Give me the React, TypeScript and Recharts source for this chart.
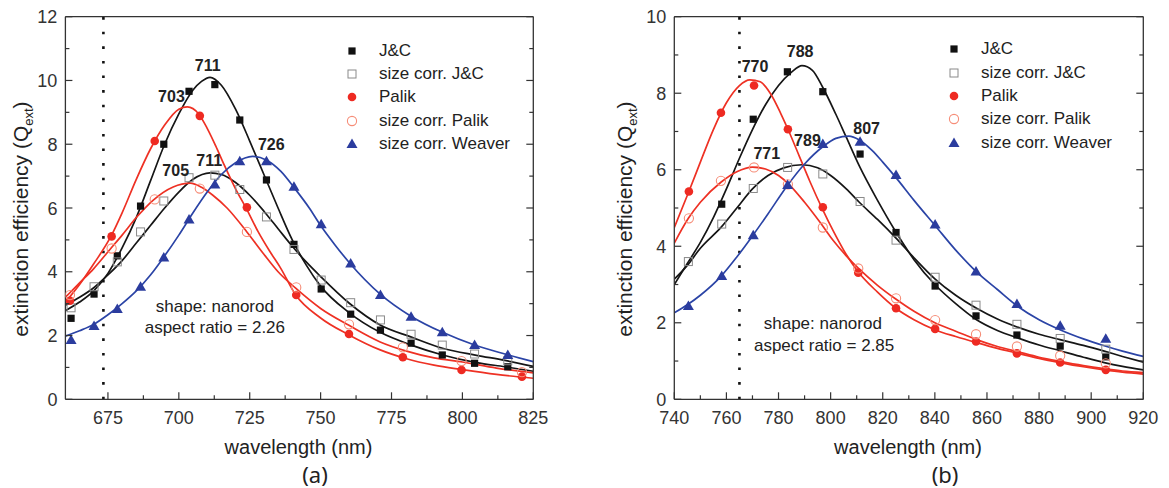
import React from 'react';
import {
  ComposedChart,
  Line,
  Scatter,
  XAxis,
  YAxis,
  ReferenceLine,
  ReferenceDot,
  Legend,
} from 'recharts';

// ---------- panel (a): nanorod, aspect ratio 2.26 ----------
// J&C, size corr. J&C and Weaver share the same wavelengths
const aX = [662, 670.1, 678.3, 686.5, 694.7, 703.6, 712.7, 721.5, 730.9, 740.6, 750.2, 760.6, 771.1, 781.9, 792.9, 804.3, 816.0];
const aJC = [2.54, 3.3, 4.5, 6.06, 8.0, 9.66, 9.87, 8.76, 6.88, 4.86, 3.46, 2.67, 2.17, 1.76, 1.39, 1.13, 1.02];
const aJCsc = [2.87, 3.53, 4.31, 5.25, 6.22, 6.95, 7.03, 6.58, 5.72, 4.7, 3.74, 3.03, 2.49, 2.04, 1.7, 1.42, 1.21];
const aWeaver = [1.86, 2.3, 2.83, 3.53, 4.45, 5.64, 6.74, 7.47, 7.47, 6.67, 5.49, 4.26, 3.27, 2.59, 2.1, 1.7, 1.39];
const aPX = [661.6, 676.3, 691.5, 707.4, 724.0, 741.4, 760.0, 779.0, 799.7, 821.0];
const aPalik = [3.09, 5.11, 8.1, 8.89, 6.02, 3.27, 2.05, 1.32, 0.92, 0.71];
const aPalikSc = [3.27, 4.73, 6.27, 6.61, 5.25, 3.51, 2.35, 1.63, 1.2, 0.85];

// fitted curves
const aFitJCX = [660, 665, 670, 675, 680, 685, 690, 695, 700, 705, 708, 711, 715, 720, 725, 730, 735, 740, 745, 750, 760, 771, 782, 793, 805, 815, 825];
const aFitJC = [2.78, 3.05, 3.4, 3.95, 4.75, 5.7, 6.85, 8.0, 8.95, 9.7, 9.97, 10.1, 9.85, 9.1, 8.1, 7.05, 6.0, 5.0, 4.2, 3.55, 2.72, 2.1, 1.7, 1.39, 1.15, 1.02, 0.88];
const aFitJCscX = [660, 665, 670, 675, 680, 685, 690, 695, 700, 705, 711, 715, 720, 725, 730, 735, 740, 745, 750, 760, 771, 782, 793, 805, 815, 825];
const aFitJCsc = [2.95, 3.2, 3.5, 3.9, 4.35, 4.9, 5.45, 6.0, 6.5, 6.9, 7.1, 7.05, 6.8, 6.4, 5.9, 5.35, 4.8, 4.3, 3.85, 3.02, 2.33, 1.95, 1.6, 1.38, 1.22, 1.03];
const aFitPX = [660, 665, 670, 676, 680, 685, 690, 695, 700, 703, 707, 710, 713, 716, 720, 724, 728, 732, 736, 741, 750, 760, 771, 780, 790, 800, 812, 825];
const aFitP = [3.05, 3.6, 4.25, 5.1, 5.85, 6.9, 7.85, 8.6, 9.1, 9.17, 8.95, 8.5, 7.95, 7.35, 6.6, 5.95, 5.25, 4.65, 4.1, 3.3, 2.55, 2.02, 1.55, 1.28, 1.07, 0.93, 0.78, 0.66];
const aFitPscX = [660, 665, 670, 676, 680, 685, 691, 698, 704, 708, 712, 717, 724, 730, 735, 741, 750, 760, 771, 780, 790, 800, 812, 825];
const aFitPsc = [3.2, 3.65, 4.1, 4.73, 5.15, 5.7, 6.25, 6.66, 6.78, 6.65, 6.4, 6.0, 5.25, 4.55, 4.0, 3.5, 2.85, 2.32, 1.8, 1.52, 1.3, 1.17, 0.98, 0.83];
const aFitWX = [660, 665, 670, 675, 680, 685, 690, 695, 700, 705, 710, 715, 720, 726, 731, 736, 741, 746, 750, 755, 760, 771, 782, 793, 805, 815, 825];
const aFitW = [1.98, 2.15, 2.35, 2.65, 3.0, 3.4, 3.9, 4.5, 5.15, 5.85, 6.5, 7.05, 7.42, 7.62, 7.5, 7.15, 6.6, 6.0, 5.45, 4.85, 4.3, 3.3, 2.6, 2.1, 1.68, 1.42, 1.18];

// ---------- panel (b): nanorod, aspect ratio 2.85 ----------
const bX = [745.4, 758.2, 770.3, 783.5, 797.0, 811.3, 825.1, 840.1, 855.8, 871.5, 888.1, 905.6];
const bJCX = [758.2, 770.3, 783.4, 797.0, 811.3, 825.1, 840.1, 855.8, 871.5, 888.1, 905.6];
const bJC = [5.1, 7.32, 8.56, 8.04, 6.41, 4.36, 2.96, 2.18, 1.68, 1.39, 1.11];
const bJCsc = [3.6, 4.58, 5.51, 6.06, 5.89, 5.17, 4.16, 3.19, 2.46, 1.96, 1.59, 1.31];
const bWeaver = [2.44, 3.22, 4.29, 5.6, 6.67, 6.73, 5.86, 4.57, 3.34, 2.49, 1.92, 1.58];
const bPX = [745.6, 757.9, 770.6, 783.6, 797.0, 810.6, 825.1, 840.1, 855.8, 871.5, 888.1, 905.6];
const bPalik = [5.43, 7.49, 8.2, 7.06, 5.02, 3.31, 2.38, 1.84, 1.51, 1.2, 0.96, 0.77];
const bPalikSc = [4.73, 5.71, 6.06, 5.62, 4.49, 3.42, 2.64, 2.07, 1.7, 1.38, 1.14, 0.94];

const bFitJCX = [740, 745, 750, 755, 760, 765, 770, 775, 780, 785, 789, 793, 797, 802, 806, 811, 818, 825, 832, 840, 848, 856, 864, 872, 880, 888, 897, 905, 912, 920];
const bFitJC = [3.0, 3.55, 4.1, 4.75, 5.5, 6.3, 7.05, 7.7, 8.2, 8.55, 8.72, 8.6, 8.15, 7.45, 6.85, 6.1, 5.2, 4.38, 3.65, 3.0, 2.5, 2.08, 1.8, 1.6, 1.42, 1.27, 1.1, 0.96, 0.86, 0.77];
const bFitJCscX = [740, 745, 750, 758, 764, 770, 776, 782, 789, 795, 800, 806, 811, 818, 825, 832, 840, 848, 856, 864, 872, 880, 888, 897, 905, 912, 920];
const bFitJCsc = [3.14, 3.5, 3.95, 4.5, 5.0, 5.5, 5.85, 6.05, 6.13, 6.05, 5.85, 5.5, 5.15, 4.7, 4.22, 3.7, 3.15, 2.72, 2.38, 2.1, 1.88, 1.7, 1.56, 1.41, 1.26, 1.12, 0.97];
const bFitPX = [740, 745.6, 750, 755, 760, 765, 769, 773, 777, 781, 784, 788, 792, 797, 801, 805, 810, 818, 825, 832, 840, 848, 856, 864, 872, 880, 888, 897, 905, 912, 920];
const bFitP = [4.49, 5.43, 6.2, 7.05, 7.75, 8.2, 8.35, 8.3, 7.98, 7.45, 7.0, 6.35, 5.7, 4.95, 4.4, 3.9, 3.38, 2.8, 2.38, 2.08, 1.82, 1.64, 1.48, 1.33, 1.2, 1.07, 0.96, 0.85, 0.77, 0.71, 0.66];
const bFitPscX = [740, 745.4, 750, 758, 764, 770, 775, 780, 784, 790, 796, 801, 806, 811, 818, 825, 832, 840, 848, 856, 864, 872, 880, 888, 897, 905, 912, 920];
const bFitPsc = [4.08, 4.73, 5.15, 5.68, 5.95, 6.07, 6.02, 5.85, 5.62, 5.15, 4.62, 4.15, 3.75, 3.4, 2.98, 2.62, 2.3, 2.0, 1.78, 1.56, 1.38, 1.24, 1.1, 0.99, 0.88, 0.8, 0.74, 0.7];
const bFitWX = [740, 745, 750, 758, 764, 770, 776, 783, 790, 797, 802, 807, 811, 816, 820, 825, 832, 840, 848, 856, 864, 872, 880, 888, 897, 905, 912, 920];
const bFitW = [2.26, 2.47, 2.72, 3.22, 3.72, 4.27, 4.85, 5.55, 6.15, 6.6, 6.82, 6.88, 6.78, 6.5, 6.2, 5.8, 5.2, 4.55, 3.9, 3.33, 2.87, 2.42, 2.08, 1.82, 1.58, 1.4, 1.26, 1.12];

// ticks
const aXMajor = [675, 700, 725, 750, 775, 800, 825];
const aXMinor = [687.5, 712.5, 737.5, 762.5, 787.5, 812.5];
const aYMajor = [0, 2, 4, 6, 8, 10, 12];
const aYMinor = [1, 3, 5, 7, 9, 11];
const bXMajor = [740, 760, 780, 800, 820, 840, 860, 880, 900, 920];
const bXMinor = [750, 770, 790, 810, 830, 850, 870, 890, 910];
const bYMajor = [0, 2, 4, 6, 8, 10];
const bYMinor = [1, 3, 5, 7, 9];

// peak wavelength labels and notes
const aPeaks = [
  { x: 710.2, y: 10.48, t: '711' },
  { x: 697.4, y: 9.51, t: '703' },
  { x: 698.9, y: 7.18, t: '705' },
  { x: 710.7, y: 7.51, t: '711' },
  { x: 732.6, y: 7.99, t: '726' },
];
const bPeaks = [
  { x: 788.3, y: 9.1, t: '788' },
  { x: 771.0, y: 8.7, t: '770' },
  { x: 775.5, y: 6.44, t: '771' },
  { x: 791.1, y: 6.78, t: '789' },
  { x: 813.8, y: 7.09, t: '807' },
];
const aNotes = [
  { x: 712.7, y: 2.92, t: 'shape: nanorod' },
  { x: 712.7, y: 2.28, t: 'aspect ratio = 2.26' },
];
const bNotes = [
  { x: 797, y: 1.99, t: 'shape: nanorod' },
  { x: 797.5, y: 1.42, t: 'aspect ratio = 2.85' },
];

const SERIES = [
  { name: 'J&C', kind: 'sq', line: '#161616' },
  { name: 'size corr. J&C', kind: 'osq', line: '#161616' },
  { name: 'Palik', kind: 'dot', line: '#ee3124' },
  { name: 'size corr. Palik', kind: 'odot', line: '#ee3124' },
  { name: 'size corr. Weaver', kind: 'tri', line: '#2b44a6' },
];

type Pt = { x: number; y: number };
const zip = (xs: number[], ys: number[]): Pt[] => xs.map((x, i) => ({ x, y: ys[i] }));

const AX = '#333';
const FONT = '"Liberation Sans", Arial, sans-serif';

function Marker({ kind, cx, cy }: { kind: string; cx: number; cy: number }) {
  if (cx == null || cy == null) return null;
  switch (kind) {
    case 'sq':
      return <rect x={cx - 3.6} y={cy - 3.6} width={7.2} height={7.2} fill="#111" />;
    case 'osq':
      return <rect x={cx - 4} y={cy - 4} width={8} height={8} fill="none" stroke="#8a8a8a" strokeWidth={1} />;
    case 'dot':
      return <circle cx={cx} cy={cy} r={4.3} fill="#ee2a22" />;
    case 'odot':
      return <circle cx={cx} cy={cy} r={4.6} fill="none" stroke="#f68d78" strokeWidth={1.1} />;
    default:
      return <path d={`M${cx},${cy - 5.5}L${cx + 5.5},${cy + 4}L${cx - 5.5},${cy + 4}Z`} fill="#2b3c9e" />;
  }
}

function makeTick(side: 'bottom' | 'top' | 'left' | 'right', majors: number[]) {
  return (p: any) => {
    const { x, y, payload } = p;
    const v = payload.value as number;
    const major = majors.includes(v);
    const len = major ? 7 : 4;
    const dx = side === 'left' ? len : side === 'right' ? -len : 0;
    const dy = side === 'bottom' ? -len : side === 'top' ? len : 0;
    return (
      <g>
        <line x1={x} y1={y} x2={x + dx} y2={y + dy} stroke={AX} strokeWidth={1.2} />
        {major && side === 'bottom' && (
          <text x={x} y={y + 25} textAnchor="middle" fontSize={18} fill="#333" fontFamily={FONT}>
            {v}
          </text>
        )}
        {major && side === 'left' && (
          <text x={x - 8} y={y + 6.5} textAnchor="end" fontSize={18} fill="#333" fontFamily={FONT}>
            {v}
          </text>
        )}
      </g>
    );
  };
}

function LegendBox() {
  return (
    <div style={{ fontSize: 17, color: '#222', fontFamily: FONT }}>
      {SERIES.map((s) => (
        <div key={s.name} style={{ display: 'flex', alignItems: 'center', height: 23.3 }}>
          <svg width={16} height={16} style={{ flex: 'none' }}>
            <Marker kind={s.kind} cx={8} cy={8} />
          </svg>
          <span style={{ marginLeft: 19, whiteSpace: 'nowrap' }}>{s.name}</span>
        </div>
      ))}
    </div>
  );
}

type PanelProps = {
  width: number;
  margin: { top: number; right: number; bottom: number; left: number };
  points: Pt[][];
  fits: Pt[][];
  xDomain: [number, number];
  xMajor: number[];
  xMinor: number[];
  yDomain: [number, number];
  yMajor: number[];
  yMinor: number[];
  peaks: { x: number; y: number; t: string }[];
  notes: { x: number; y: number; t: string }[];
  dotX: number;
  legendPos: { left: number; top: number };
};

// axes are 1px thick boxes; the margins below already take that pixel off
function Panel(props: PanelProps) {
  const xTicks = [...props.xMajor, ...props.xMinor].sort((a, b) => a - b);
  const yTicks = [...props.yMajor, ...props.yMinor].sort((a, b) => a - b);
  const axisLine = { stroke: AX, strokeWidth: 1.3 };
  const common = {
    type: 'number' as const,
    allowDataOverflow: true,
    interval: 0 as const,
    tickSize: 0,
    tickMargin: 0,
    tickLine: false,
    axisLine,
  };
  return (
    <ComposedChart width={props.width} height={488} margin={props.margin}>
      <XAxis {...common} dataKey="x" domain={props.xDomain} ticks={xTicks} height={1} tick={makeTick('bottom', props.xMajor)} />
      <XAxis {...common} xAxisId="top" orientation="top" domain={props.xDomain} ticks={xTicks} height={1} tick={makeTick('top', props.xMajor)} />
      <YAxis {...common} dataKey="y" domain={props.yDomain} ticks={yTicks} width={1} tick={makeTick('left', props.yMajor)} />
      <YAxis {...common} yAxisId="right" orientation="right" domain={props.yDomain} ticks={yTicks} width={1} tick={makeTick('right', props.yMajor)} />
      <ReferenceLine x={props.dotX} stroke="#111" strokeWidth={2.6} strokeDasharray="2.6 12" />
      {props.fits.map((f, i) => (
        <Line
          key={'fit' + i}
          data={f}
          dataKey="y"
          type="monotone"
          stroke={SERIES[i].line}
          strokeWidth={1.7}
          dot={false}
          activeDot={false}
          legendType="none"
          isAnimationActive={false}
        />
      ))}
      {props.points.map((pts, i) => (
        <Scatter
          key={'pts' + i}
          name={SERIES[i].name}
          data={pts}
          dataKey="y"
          isAnimationActive={false}
          shape={(p: any) => <Marker kind={SERIES[i].kind} cx={p.cx} cy={p.cy} />}
        />
      ))}
      {props.peaks.map((pk, i) => (
        <ReferenceDot
          key={'pk' + i}
          x={pk.x}
          y={pk.y}
          r={0}
          fill="none"
          stroke="none"
          label={{ value: pk.t, position: 'center', fontSize: 16, fontWeight: 'bold', fill: '#222', fontFamily: FONT }}
        />
      ))}
      {props.notes.map((n, i) => (
        <ReferenceDot
          key={'nt' + i}
          x={n.x}
          y={n.y}
          r={0}
          fill="none"
          stroke="none"
          label={{ value: n.t, position: 'center', fontSize: 17, fill: '#222', fontFamily: FONT }}
        />
      ))}
      <Legend
        layout="vertical"
        align="center"
        verticalAlign="middle"
        content={() => <LegendBox />}
        wrapperStyle={{ left: props.legendPos.left, top: props.legendPos.top, width: 'auto' }}
      />
    </ComposedChart>
  );
}

const yTitle: React.CSSProperties = {
  position: 'absolute',
  top: 219,
  transform: 'translate(-50%, -50%) rotate(-90deg)',
  whiteSpace: 'nowrap',
  fontSize: 21,
  lineHeight: '24px',
  color: '#222',
};
const xTitle: React.CSSProperties = {
  position: 'absolute',
  top: 437,
  transform: 'translateX(-50%)',
  whiteSpace: 'nowrap',
  fontSize: 20,
  lineHeight: '20px',
  color: '#222',
};
const tag: React.CSSProperties = {
  position: 'absolute',
  top: 463,
  transform: 'translateX(-50%)',
  fontSize: 22,
  lineHeight: '22px',
  fontFamily: '"Noto Sans", "Open Sans", sans-serif',
  color: '#222',
};

export default function App() {
  return (
    <div
      style={{
        position: 'absolute',
        left: 0,
        top: 0,
        width: 1169,
        height: 488,
        background: '#fff',
        fontFamily: FONT,
        overflow: 'hidden',
      }}
    >
      <div style={{ position: 'absolute', left: 0, top: 0 }}>
        <Panel
          width={560}
          margin={{ top: 15.7, right: 25.7, bottom: 87.7, left: 64.4 }}
          points={[zip(aX, aJC), zip(aX, aJCsc), zip(aPX, aPalik), zip(aPX, aPalikSc), zip(aX, aWeaver)]}
          fits={[zip(aFitJCX, aFitJC), zip(aFitJCscX, aFitJCsc), zip(aFitPX, aFitP), zip(aFitPscX, aFitPsc), zip(aFitWX, aFitW)]}
          xDomain={[660, 825]}
          xMajor={aXMajor}
          xMinor={aXMinor}
          yDomain={[0, 12]}
          yMajor={aYMajor}
          yMinor={aYMinor}
          peaks={aPeaks}
          notes={aNotes}
          dotX={673.4}
          legendPos={{ left: 344, top: 39 }}
        />
      </div>
      <div style={{ position: 'absolute', left: 580, top: 0 }}>
        <Panel
          width={589}
          margin={{ top: 15.7, right: 24.7, bottom: 87.7, left: 93.3 }}
          points={[zip(bJCX, bJC), zip(bX, bJCsc), zip(bPX, bPalik), zip(bPX, bPalikSc), zip(bX, bWeaver)]}
          fits={[zip(bFitJCX, bFitJC), zip(bFitJCscX, bFitJCsc), zip(bFitPX, bFitP), zip(bFitPscX, bFitPsc), zip(bFitWX, bFitW)]}
          xDomain={[740, 920]}
          xMajor={bXMajor}
          xMinor={bXMinor}
          yDomain={[0, 10]}
          yMajor={bYMajor}
          yMinor={bYMinor}
          peaks={bPeaks}
          notes={bNotes}
          dotX={765}
          legendPos={{ left: 366, top: 37.7 }}
        />
      </div>
      <div style={{ ...yTitle, left: 21 }}>
        extinction efficiency (Q<sub style={{ fontSize: '0.62em', lineHeight: 0 }}>ext</sub>)
      </div>
      <div style={{ ...yTitle, left: 625 }}>
        extinction efficiency (Q<sub style={{ fontSize: '0.62em', lineHeight: 0 }}>ext</sub>)
      </div>
      <div style={{ ...xTitle, left: 298.5 }}>wavelength (nm)</div>
      <div style={{ ...xTitle, left: 908 }}>wavelength (nm)</div>
      <div style={{ ...tag, left: 315 }}>(a)</div>
      <div style={{ ...tag, left: 945 }}>(b)</div>
    </div>
  );
}
